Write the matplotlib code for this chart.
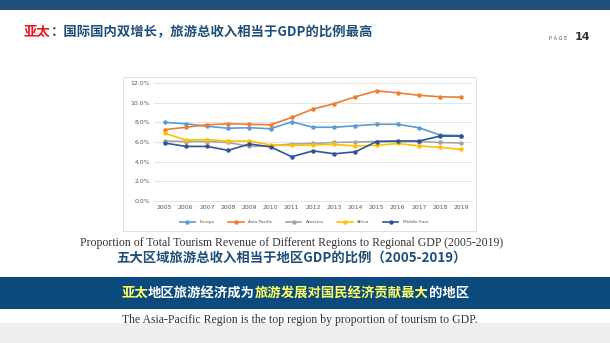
"""
Regional tourism revenue as a share of regional GDP, 2005-2019, laid out as a slide.
"""
import matplotlib
matplotlib.use("Agg")
import matplotlib.pyplot as plt
from matplotlib.patches import Rectangle
from matplotlib.ticker import FuncFormatter

W, H, DPI = 610, 343, 100

years = [str(y) for y in range(2005, 2020)]
europe = [8.0, 7.85, 7.6, 7.4, 7.45, 7.35, 8.05, 7.5, 7.5, 7.65, 7.8, 7.8, 7.45, 6.7, 6.65]
asia_pacific = [7.25, 7.5, 7.75, 7.85, 7.8, 7.75, 8.5, 9.35, 9.9, 10.6, 11.2, 11.0, 10.75, 10.6, 10.55]
america = [6.1, 6.05, 6.05, 5.95, 5.55, 5.6, 5.8, 5.85, 5.95, 6.0, 6.05, 6.05, 6.05, 5.95, 5.9]
africa = [6.9, 6.2, 6.25, 6.1, 6.1, 5.7, 5.65, 5.7, 5.75, 5.6, 5.65, 5.85, 5.6, 5.45, 5.25]
middle_east = [5.9, 5.55, 5.55, 5.15, 5.8, 5.5, 4.5, 5.1, 4.8, 5.0, 6.05, 6.1, 6.1, 6.6, 6.6]

series = [("Europe", europe, "#5B9BD5"),
          ("Asia Pacific", asia_pacific, "#ED7D31"),
          ("America", america, "#A5A5A5"),
          ("Africa", africa, "#FFC000"),
          ("Middle East", middle_east, "#2F5597")]

CJK = ["Noto Sans CJK SC", "DejaVu Sans"]
SERIF = ["Liberation Serif", "DejaVu Serif"]
NAVY = "#1F4E79"


def fx(x):
    return x / W


def fy(y):
    return 1 - y / H


def box(fig, x0, y0, x1, y1, **kw):
    fig.add_artist(Rectangle((fx(x0), fy(y1)), (x1 - x0) / W, (y1 - y0) / H,
                             transform=fig.transFigure, zorder=-1, **kw))


def rich_text(fig, x, y, parts, size, center=False):
    """Draw (text, colour) pieces side by side on one baseline."""
    r = fig.canvas.get_renderer()
    objs = [fig.text(0, fy(y), s, color=c, fontsize=size, fontweight="bold",
                     family=CJK, va="center") for s, c in parts]
    widths = [t.get_window_extent(r).width for t in objs]
    x0 = x - sum(widths) / 2 if center else x
    for t, w in zip(objs, widths):
        t.set_x(fx(x0))
        x0 += w


fig = plt.figure(figsize=(W / DPI, H / DPI), dpi=DPI)

# slide furniture
box(fig, 0, 0, W, 10, fc=NAVY, ec="none")
box(fig, 0, 323, W, H, fc="#efefef", ec="none")
box(fig, 0, 277, W, 309, fc="#0B4A7C", ec="none")
box(fig, 123, 77, 476, 231, fc="white", ec="#d9d9d9", lw=0.6)

rich_text(fig, 24, 32, [("亚太", "#E8161B"),
                        ("：国际国内双增长，旅游总收入相当于GDP的比例最高", NAVY)], 9.6)
fig.text(fx(567), fy(38), "P A G E", fontsize=3.6, color="#555555", ha="right", va="center")
fig.text(fx(575), fy(37), "14", fontsize=8, fontweight="bold", color="#333333", va="center")

# line chart
ax = fig.add_axes([fx(154), fy(201), 318 / W, 118 / H])
ax.patch.set_alpha(0)
for name, vals, col in series:
    ax.plot(range(len(years)), vals, color=col, lw=1.2, marker="o", ms=2.2, label=name)
ax.set_xlim(-0.5, len(years) - 0.5)
ax.set_ylim(0, 12)
ax.set_yticks(range(0, 13, 2))
ax.yaxis.set_major_formatter(FuncFormatter(lambda v, _: f"{v:.1f}%"))
ax.set_xticks(range(len(years)))
ax.set_xticklabels(years)
ax.tick_params(length=0, labelsize=4.4, colors="#595959", pad=3)
ax.grid(axis="y", color="#d9d9d9", lw=0.5)
ax.set_axisbelow(True)
for s in ["top", "right", "left"]:
    ax.spines[s].set_visible(False)
ax.spines["bottom"].set_color("#d9d9d9")
ax.spines["bottom"].set_linewidth(0.5)
fig.legend(loc="center", bbox_to_anchor=(fx(304), fy(222)), ncol=5, fontsize=3.2,
           frameon=False, handlelength=3.5, columnspacing=3.0, handletextpad=1.0,
           labelcolor="#595959")

# captions
fig.text(fx(292), fy(243), "Proportion of Total Tourism Revenue of Different Regions to Regional GDP (2005-2019)",
         family=SERIF, fontsize=8.5, color="#333333", ha="center", va="center")
fig.text(fx(291), fy(258), "五大区域旅游总收入相当于地区GDP的比例（2005-2019）",
         family=CJK, fontsize=9.6, fontweight="bold", color=NAVY, ha="center", va="center")
rich_text(fig, 295, 293, [("亚太", "#FFFF66"), ("地区旅游经济成为", "white"),
                          ("旅游发展对国民经济贡献最大", "#FFFF66"), ("的地区", "white")],
          9.6, center=True)
fig.text(fx(300), fy(320), "The Asia-Pacific Region is the top region by proportion of tourism to GDP.",
         family=SERIF, fontsize=8.5, color="#333333", ha="center", va="center")

fig.savefig("out.png", dpi=DPI)
